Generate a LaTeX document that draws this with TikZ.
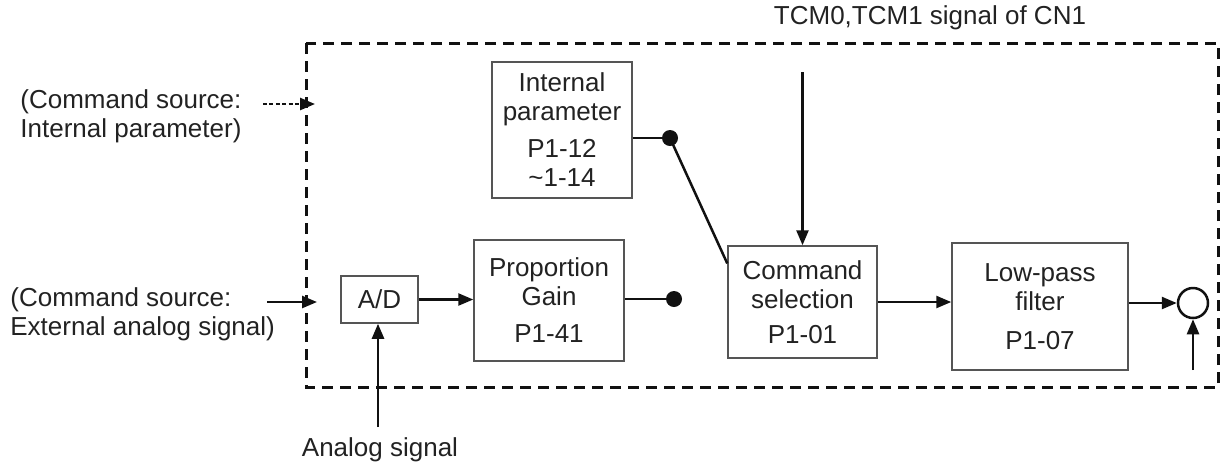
\documentclass[tikz,border=0pt]{standalone}
\usepackage{fontspec}
\setmainfont{Liberation Sans}
\usetikzlibrary{arrows.meta,positioning,calc}
\definecolor{tqtext}{HTML}{222222}
\definecolor{tqline}{HTML}{111111}
\definecolor{tqbox}{HTML}{555555}

\begin{document}
\begin{tikzpicture}[
  x=0.5pt, y=-0.5pt,
  blk/.style={
    draw=tqbox, line width=0.75pt, inner sep=0pt,
    font=\fontsize{13}{14.5}\selectfont, align=center, text=tqtext},
  arrow/.style={-{Triangle[length=7.5pt,width=6pt]}, tqline, line width=1.25pt},
  wire/.style={tqline, line width=1.25pt},
  dot/.style={circle, fill=tqline, inner sep=0pt, minimum size=8pt},
  frame/.style={tqline, line width=1.5pt, dash pattern=on 5.5pt off 3.5pt},
  ann/.style={font=\fontsize{13}{14.5}\selectfont, text=tqtext, inner sep=0pt},
]
  \useasboundingbox (0,0) rectangle (1221,463);

  %% ---- Marco (limite del bloque) ----
  \draw[frame] (306,43) rectangle (1218,387);

  %% ---- Bloques ----
  \node[blk, minimum width=70pt, minimum height=68pt] (intp) at (562,130)
    {Internal\\parameter\\[4pt]P1-12\\\textasciitilde1-14};
  \node[blk, minimum width=38.5pt, minimum height=23.5pt] (ad) at (379.5,299.5) {A/D};
  \node[blk, minimum width=75pt, minimum height=60.5pt] (prop) at (549,300.5)
    {Proportion\\Gain\\[4pt]P1-41};
  \node[blk, minimum width=74.5pt, minimum height=56pt] (cmd) at (802.5,302)
    {Command\\selection\\[3pt]P1-01};
  \node[blk, minimum width=88pt, minimum height=63.5pt] (lpf) at (1040,306.5)
    {Low-pass\\filter\\[5pt]P1-07};
  \node[circle, draw=tqline, line width=1.25pt, inner sep=0pt, minimum size=15pt] (sum) at (1193,303) {};

  %% ---- Contactos del selector ----
  \node[dot] (sw1) at (670,138) {};
  \node[dot] (sw2) at (674,299) {};

  %% ---- Textos ----
  \node[ann, anchor=west, align=left] (srcint) at (20,116) {(Command source:\\Internal parameter)};
  \node[ann, anchor=west, align=left] (srcext) at (10,314) {(Command source:\\External analog signal)};
  \node[ann] (tcm) at (930,18) {TCM0,TCM1 signal of CN1};
  \node[ann] (analog) at (380,450) {Analog signal};

  %% ---- Puntos libres ----
  \coordinate (intin0) at (263,104);
  \coordinate (intin1) at (315,104);
  \coordinate (extin0) at (267,302);
  \coordinate (extin1) at (317,302);
  \coordinate (tcmtop) at (802.5,72);
  \coordinate (adin) at (378,427);
  \coordinate (sumin) at (1193,370);

  %% ---- Conexiones ----
  \draw[arrow, dash pattern=on 2pt off 1.2pt] (intin0) -- (intin1);
  \draw[arrow] (extin0) -- (extin1);
  \draw[arrow] (adin) -- (adin |- ad.south);
  \draw[arrow] (ad.east) -- (ad.east -| prop.west);
  \draw[wire] (prop.east |- sw2) -- (sw2);
  \draw[wire] (intp.east |- sw1) -- (sw1);
  \draw[wire] (sw1.center) -- ($(cmd.north west)!0.16!(cmd.south west)$);
  \draw[arrow] (tcmtop) -- (cmd.north);
  \draw[arrow] (cmd.east) -- (cmd.east -| lpf.west);
  \draw[arrow] (sum.west -| lpf.east) -- (sum.west);
  \draw[arrow] (sumin) -- (sum.south);

\end{tikzpicture}
\end{document}
